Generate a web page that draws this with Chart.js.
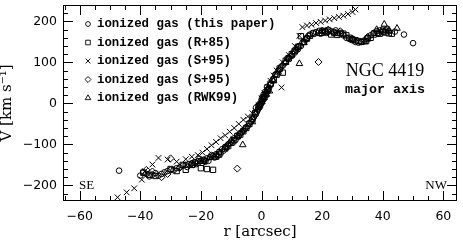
<!DOCTYPE html>
<html>
<head>
<meta charset="utf-8">
<script src="https://cdn.jsdelivr.net/npm/chart.js@4.4.0/dist/chart.umd.min.js"></script>
<style>
  html, body { margin: 0; padding: 0; background: #fff; }
  canvas { display: block; }
</style>
</head>
<body>
<canvas id="rotCurve" width="463" height="241"></canvas>
<script>
// tick labels
const xTicks = [-60, -40, -20, 0, 20, 40, 60];
const yTicks = [-200, -100, 0, 100, 200];

const seriesLabels = [
    "ionized gas (this paper)",
    "ionized gas (R+85)",
    "ionized gas (S+95)",
    "ionized gas (S+95)",
    "ionized gas (RWK99)"
];

// [r arcsec, V km/s]
const thisPaper = [
    [-47, -164], [-40, -176], [-39, -168], [-38, -172], [-37, -178], [-36, -174], [-35, -170],
    [-34, -176], [-33, -172], [-32, -168], [-31, -165], [-30, -162], [-29, -163], [-28, -158],
    [-27, -156], [-26, -152], [-25, -150], [-24.5, -155], [-24, -148], [-23, -146], [-22.5, -150],
    [-22, -143], [-21.5, -148], [-21, -141], [-20.5, -135], [-20, -140], [-19.5, -145], [-19, -137],
    [-18.5, -142], [-18, -134], [-17.5, -140], [-17, -131], [-16.5, -126], [-16, -128],
    [-15.5, -132], [-15, -124], [-14.5, -128], [-14, -118], [-13.5, -122], [-13, -112],
    [-12.5, -115], [-12, -106], [-11.5, -108], [-11, -100], [-10.5, -98], [-10, -93], [-9.5, -96],
    [-9, -85], [-8.5, -88], [-8, -78], [-7.5, -80], [-7, -72], [-6.5, -70], [-6, -66], [-5.5, -62],
    [-5, -58], [-4.5, -55], [-4, -48], [-3.5, -45], [-3, -40], [-2.5, -33], [-2.2, -22], [-2, -27],
    [-1.8, -10], [-1.5, -20], [-1.2, -15], [-1, -12], [-0.8, -2], [-0.5, -5], [-0.3, -2], [0, 2],
    [0.2, 15], [0.3, 6], [0.5, 10], [0.7, 22], [0.8, 12], [1, 18], [1.2, 28], [1.5, 25], [1.8, 40],
    [2, 30], [2.2, 35], [2.5, 38], [3, 45], [3.5, 55], [4, 60], [4.5, 70], [5, 72], [5.5, 80],
    [6, 82], [6.5, 90], [7, 92], [7.5, 98], [8, 100], [8.5, 110], [9, 108], [9.5, 115], [10, 116],
    [10.5, 125], [11, 124], [11.5, 130], [12, 132], [12.5, 140], [13, 140], [13.5, 148], [14, 150],
    [14.5, 155], [15, 160], [15.5, 165], [16, 168], [17, 172], [18, 174], [19, 177], [19.5, 170],
    [20, 178], [21, 177], [21.5, 172], [22, 175], [23, 176], [24, 174], [24.5, 178], [25, 172],
    [26, 170], [27, 166], [28, 160], [29, 157], [30, 154], [31, 150], [32, 148], [33, 150],
    [34, 154], [35, 160], [36, 166], [37, 172], [38, 176], [38.5, 170], [39, 178], [40, 180],
    [41, 178], [41.5, 182], [42, 176], [44, 175], [47, 168], [50, 147]
];

const r85 = [
    [-39, -169], [-37, -174], [-35, -177], [-30, -160], [-28, -165], [-26, -150], [-25, -162],
    [-23, -150], [-22, -145], [-20, -158], [-19, -140], [-18, -160], [-16, -162], [-15, -130],
    [-14, -125], [-12, -110], [-11, -104], [-10, -96], [-9, -90], [-8, -80], [-7, -76], [-6, -68],
    [-5, -60], [-4, -50], [-3, -38], [-2, -24], [-1, -8], [-0.5, -5], [0, 5], [0.5, 12], [1, 15],
    [1.5, 22], [2, 32], [3, 48], [4, 58], [5, 70], [6, 85], [7, 75], [8, 104], [9, 110], [10, 120],
    [11, 128], [12, 138], [13, 164], [14, 150], [15, 158], [16, 165], [17, 170], [19, 172],
    [20, 172], [21, 175], [22, 178], [23, 168], [24, 172], [25, 167], [26, 172], [27, 170],
    [28, 166], [29, 160], [30, 156], [31, 154], [32, 152], [33, 150], [34.5, 152], [35, 158],
    [36, 160], [37, 168], [38, 172], [39, 170], [40, 174], [41, 173], [42, 171], [43, 170]
];

const s95cross = [
    [-47.5, -229], [-44.5, -217], [-42, -207], [-39.5, -186], [-38.5, -165], [-36, -149],
    [-34, -133], [-31, -137], [-28, -142], [-25, -136], [-23, -130], [-21, -126], [-19.5, -120],
    [-18, -111], [-16.5, -102], [-15, -94], [-13.5, -85], [-12, -78], [-10.5, -69], [-9, -60],
    [-7.5, -50], [-6, -40], [-4.5, -32], [-3, -24], [-2, -18], [-1, -6], [0, 12], [1, 25],
    [2, 40], [3, 55], [4, 68], [5, 80], [6.6, 39], [7, 100], [9, 118], [11, 140], [12.5, 165],
    [13.5, 186], [15, 190], [16.5, 192], [18, 196], [19.5, 199], [21, 202], [22.5, 205],
    [24, 208], [25.5, 211], [27, 214], [28.5, 218], [30, 223], [31, 229]
];

const s95diamond = [
    [-38, -162], [-36, -166], [-33, -180], [-31, -172], [-30, -134], [-27, -157], [-23, -147],
    [-19, -140], [-15, -126], [-11, -100], [-8, -159], [-7, -74], [-3, -38], [0, 0], [3, 48],
    [6, 84], [9, 112], [12, 136], [15, 158], [18.8, 101], [22, 180], [26, 176], [30, 158],
    [35, 162], [40, 176]
];

const rwk99 = [
    [-20, -142], [-17, -132], [-14, -120], [-12, -108], [-10, -90], [-8, -82], [-6.2, -101],
    [-3, -45], [-1, -10], [0, 5], [1.6, 22], [2.6, 30], [4, 55], [5.5, 76], [8, 100], [10, 118],
    [12.5, 97], [14, 148], [20, 176], [25, 170], [30, 156], [34, 150], [38, 180], [40.5, 193],
    [42, 178], [44.7, 183]
];

const markerStyles = [
    { pointStyle: "circle", radius: 2.8 },
    { pointStyle: "rect", radius: 3.8 },
    { pointStyle: "crossRot", radius: 4 },
    { pointStyle: "rectRot", radius: 3.5 },
    { pointStyle: "triangle", radius: 3.8 }
];

const allSeries = [thisPaper, r85, s95cross, s95diamond, rwk99];

const fmt = v => (v < 0 ? "\u2212" + Math.abs(v) : String(v));
const tickFont = { family: "DejaVu Sans", size: 12.5 };
const titleFont = { family: "DejaVu Serif", size: 15, lineHeight: 1 };

// inward ticks on all four sides, plus frame and the labels inside the box
const frameAndText = {
    id: "frameAndText",
    afterDraw(chart) {
        const { ctx, chartArea: a, scales: { x, y } } = chart;
        ctx.save();
        ctx.strokeStyle = "#000";
        ctx.lineWidth = 1;
        ctx.strokeRect(a.left + 0.5, a.top + 0.5, a.right - a.left - 1, a.bottom - a.top - 1);

        ctx.beginPath();
        for (let v = -65; v <= 65; v += 5) {
            const px = Math.round(x.getPixelForValue(v)) + 0.5;
            if (px < a.left || px > a.right) continue;
            const len = v % 20 === 0 ? 10 : 5;
            ctx.moveTo(px, a.bottom); ctx.lineTo(px, a.bottom - len);
            ctx.moveTo(px, a.top); ctx.lineTo(px, a.top + len);
        }
        for (let v = -240; v <= 240; v += 20) {
            const py = Math.round(y.getPixelForValue(v)) + 0.5;
            if (py < a.top || py > a.bottom) continue;
            const len = v % 100 === 0 ? 10 : 5;
            ctx.moveTo(a.left, py); ctx.lineTo(a.left + len, py);
            ctx.moveTo(a.right, py); ctx.lineTo(a.right - len, py);
        }
        ctx.stroke();

        // legend
        ctx.textBaseline = "middle";
        ctx.textAlign = "left";
        ctx.font = "bold 12.4px 'Liberation Mono'";
        const lx = a.left + 25, ty = a.top + 19;
        chart.data.datasets.forEach((ds, i) => {
            const yy = ty + i * 18.5;
            ctx.lineWidth = 0.9;
            ctx.fillStyle = "rgba(0,0,0,0)";
            Chart.helpers.drawPoint(ctx, {
                pointStyle: ds.pointStyle, radius: ds.pointRadius * 0.85, rotation: 0, borderWidth: 0.9
            }, lx, yy);
            ctx.fillStyle = "#000";
            ctx.fillText(ds.label, lx + 9, yy);
        });

        ctx.fillStyle = "#000";
        ctx.textAlign = "center";
        ctx.font = "18px 'Liberation Serif'";
        ctx.fillText("NGC 4419", 385, 71);
        ctx.font = "bold 13.3px 'Liberation Mono'";
        ctx.fillText("major axis", 385, 90);

        ctx.font = "13px 'Liberation Serif'";
        ctx.textAlign = "left";
        ctx.fillText("SE", a.left + 16, 186);
        ctx.textAlign = "right";
        ctx.fillText("NW", a.right - 10, 186);
        ctx.restore();
    }
};

new Chart(document.getElementById("rotCurve"), {
    type: "scatter",
    data: {
        datasets: allSeries.map((pts, i) => ({
            label: seriesLabels[i],
            data: pts.map(p => ({ x: p[0], y: p[1] })),
            pointStyle: markerStyles[i].pointStyle,
            pointRadius: markerStyles[i].radius,
            pointBorderWidth: 1,
            borderColor: "#000",
            backgroundColor: "rgba(0,0,0,0)",
            pointBackgroundColor: "rgba(0,0,0,0)",
            pointBorderColor: "#000"
        }))
    },
    options: {
        responsive: false,
        animation: false,
        devicePixelRatio: 1,
        layout: { padding: { left: 0, top: 3, right: 6, bottom: 0 } },
        plugins: { legend: { display: false }, tooltip: { enabled: false } },
        scales: {
            x: {
                type: "linear", min: -65.5, max: 64.5,
                afterBuildTicks: s => { s.ticks = xTicks.map(v => ({ value: v })); },
                afterFit: s => { s.height = 40; s.paddingLeft = 0; s.paddingRight = 0; },
                grid: { display: false, drawTicks: false },
                border: { display: false },
                ticks: { padding: 8, color: "#000", font: tickFont, autoSkip: false, maxRotation: 0, callback: fmt },
                title: { display: true, text: "r [arcsec]", color: "#000", font: titleFont, padding: { top: 0, bottom: 1 } }
            },
            y: {
                type: "linear", min: -238, max: 240,
                afterBuildTicks: s => { s.ticks = yTicks.map(v => ({ value: v })); },
                afterFit: s => { s.width = 63; s.paddingTop = 0; s.paddingBottom = 0; },
                grid: { display: false, drawTicks: false },
                border: { display: false },
                ticks: { padding: 6, color: "#000", font: tickFont, autoSkip: false, callback: fmt },
                title: { display: true, text: "V [km s\u207B\u00B9]", color: "#000", font: titleFont, padding: { top: 0, bottom: 0 } }
            }
        }
    },
    plugins: [frameAndText]
});
</script>
</body>
</html>
